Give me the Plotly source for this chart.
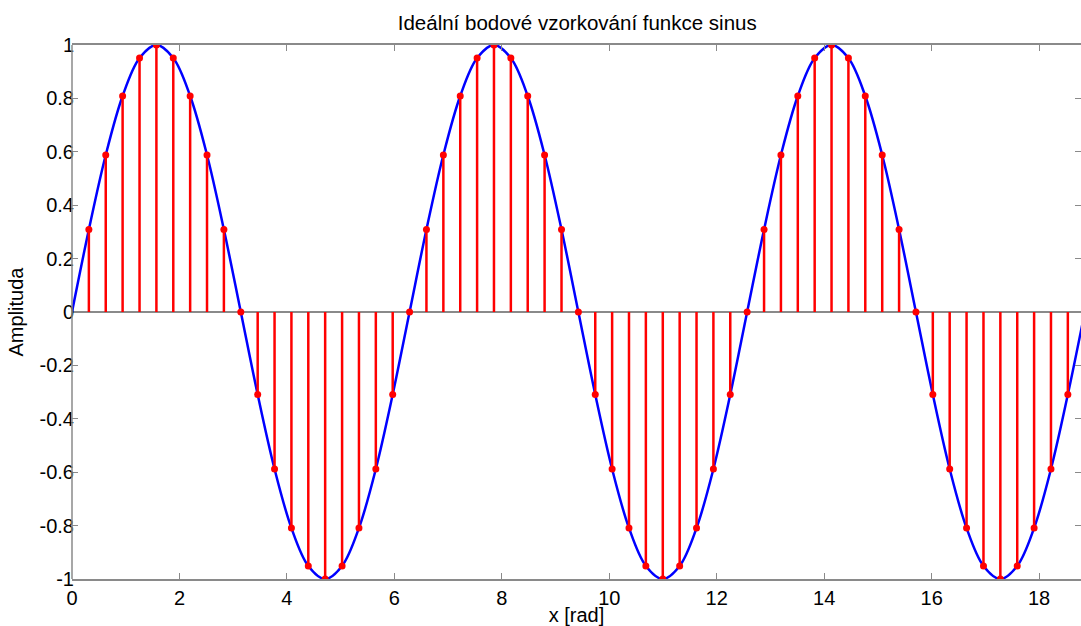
import plotly.graph_objects as go

sample_x = [0.314, 0.628, 0.942, 1.257, 1.571, 1.885, 2.199, 2.513, 2.827, 3.142,
            3.456, 3.770, 4.084, 4.398, 4.712, 5.027, 5.341, 5.655, 5.969, 6.283,
            6.597, 6.912, 7.226, 7.540, 7.854, 8.168, 8.482, 8.796, 9.111, 9.425,
            9.739, 10.053, 10.367, 10.681, 10.996, 11.310, 11.624, 11.938, 12.252, 12.566,
            12.881, 13.195, 13.509, 13.823, 14.137, 14.451, 14.765, 15.080, 15.394, 15.708,
            16.022, 16.336, 16.650, 16.965, 17.279, 17.593, 17.907, 18.221, 18.535]
sample_y = [0.309, 0.588, 0.809, 0.951, 1.0, 0.951, 0.809, 0.588, 0.309, 0.0,
            -0.309, -0.588, -0.809, -0.951, -1.0, -0.951, -0.809, -0.588, -0.309, 0.0,
            0.309, 0.588, 0.809, 0.951, 1.0, 0.951, 0.809, 0.588, 0.309, 0.0,
            -0.309, -0.588, -0.809, -0.951, -1.0, -0.951, -0.809, -0.588, -0.309, 0.0,
            0.309, 0.588, 0.809, 0.951, 1.0, 0.951, 0.809, 0.588, 0.309, 0.0,
            -0.309, -0.588, -0.809, -0.951, -1.0, -0.951, -0.809, -0.588, -0.309]

# Continuous curve end points
curve_start = (0.0, 0.0)
curve_end = (18.850, 0.0)

x_ticks = [0, 2, 4, 6, 8, 10, 12, 14, 16, 18]
y_ticks = [-1, -0.8, -0.6, -0.4, -0.2, 0, 0.2, 0.4, 0.6, 0.8, 1]
y_tick_labels = ["-1", "-0.8", "-0.6", "-0.4", "-0.2", "0", "0.2", "0.4", "0.6", "0.8", "1"]

title_text = "Ideální bodové vzorkování funkce sinus"
x_label = "x [rad]"
y_label = "Amplituda"

curve_x = [curve_start[0]] + sample_x + [curve_end[0]]
curve_y = [curve_start[1]] + sample_y + [curve_end[1]]

stem_x, stem_y = [], []
for xv, yv in zip(sample_x, sample_y):
    stem_x += [xv, xv, None]
    stem_y += [0, yv, None]

FONT = "Liberation Sans, Arial, sans-serif"
AX = "#8a8a8a"

fig = go.Figure()
fig.add_trace(go.Scatter(x=curve_x, y=curve_y, mode="lines",
                         line=dict(color="#0000ff", width=2.5, shape="spline", smoothing=1.0),
                         hoverinfo="skip", showlegend=False))
fig.add_trace(go.Scatter(x=stem_x, y=stem_y, mode="lines",
                         line=dict(color="#ff0000", width=2.5),
                         hoverinfo="skip", showlegend=False))
fig.add_trace(go.Scatter(x=sample_x, y=sample_y, mode="markers",
                         marker=dict(color="#ff0000", size=7),
                         showlegend=False))

# left axis line
fig.add_shape(type="line", xref="paper", yref="paper", x0=0, x1=0, y0=0, y1=1,
              line=dict(color=AX, width=1.5), layer="above")

fig.update_layout(
    width=1081, height=626,
    margin=dict(l=72, r=0, t=45, b=47),
    paper_bgcolor="white", plot_bgcolor="white",
    font=dict(family=FONT, color="black", size=20),
    title=dict(text=title_text, x=0.534, xanchor="center", y=0.963, yanchor="middle",
               font=dict(size=20.5, family=FONT)),
    xaxis=dict(range=[0, 18.78], tickvals=x_ticks, ticks="inside", ticklen=6,
               tickcolor=AX, showline=True, linecolor=AX, linewidth=1.5, mirror="ticks",
               showgrid=False, zeroline=False, tickfont=dict(size=20),
               title=dict(text=x_label, font=dict(size=20), standoff=0)),
    yaxis=dict(range=[-1, 1], tickvals=y_ticks, ticktext=y_tick_labels, ticks="inside",
               ticklen=6, tickcolor=AX, showline=False, mirror="ticks",
               showgrid=False, zeroline=True, zerolinecolor=AX, zerolinewidth=1.5,
               tickfont=dict(size=20), ticklabelstandoff=-3,
               title=dict(text=y_label, font=dict(size=20), standoff=10)),
)

fig.write_html("out.html")
